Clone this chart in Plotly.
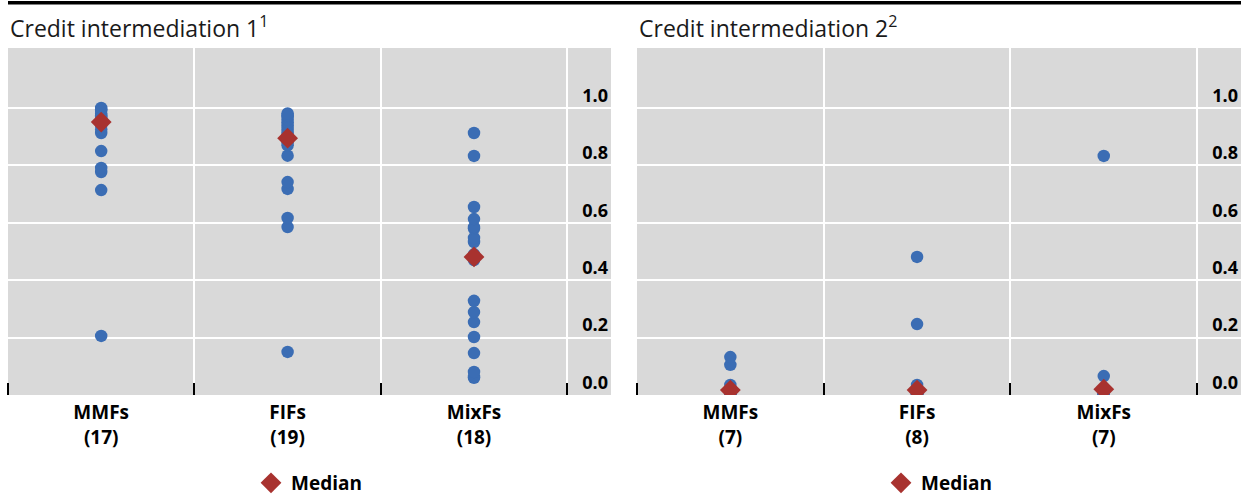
import plotly.graph_objects as go

# ---------------- data ----------------
categories = ["MMFs", "FIFs", "MixFs"]
counts_1 = [17, 19, 18]
counts_2 = [7, 8, 7]
panel_titles = ["Credit intermediation 1<sup>1</sup>", "Credit intermediation 2<sup>2</sup>"]

p1_mmfs = [0.206, 0.714, 0.777, 0.791, 0.850, 0.913, 0.925, 0.940, 0.951, 0.960,
           0.965, 0.970, 0.975, 0.980, 0.990, 0.995, 1.000]
p1_fifs = [0.150, 0.585, 0.617, 0.718, 0.742, 0.834, 0.870, 0.880, 0.890, 0.895,
           0.910, 0.920, 0.930, 0.940, 0.950, 0.960, 0.970, 0.975, 0.981]
p1_mixfs = [0.060, 0.063, 0.080, 0.146, 0.202, 0.254, 0.289, 0.328, 0.470, 0.490,
            0.533, 0.547, 0.580, 0.585, 0.613, 0.655, 0.833, 0.913]
p1_median = [0.951, 0.895, 0.481]

p2_mmfs = [0.0, 0.0, 0.0, 0.0, 0.035, 0.105, 0.132]
p2_fifs = [0.0, 0.0, 0.0, 0.0, 0.0, 0.035, 0.247, 0.481]
p2_mixfs = [0.0, 0.0, 0.0, 0.0, 0.0, 0.066, 0.833]
p2_median = [0.017, 0.017, 0.02]

y_ticks = [0.0, 0.2, 0.4, 0.6, 0.8, 1.0]

# ---------------- style ----------------
FONT = "Open Sans"
BLUE = "#3b6db4"
RED = "#a8322f"
BG = "#d9d9d9"

W, H = 1241, 495


def px(x):
    return x / W


def py(y):
    return (H - y) / H


fig = go.Figure()

panels = [
    ([p1_mmfs, p1_fifs, p1_mixfs], p1_median, "x", "y", "legend"),
    ([p2_mmfs, p2_fifs, p2_mixfs], p2_median, "x2", "y2", "legend2"),
]

for series, med, xa, ya, lg in panels:
    xs, ys = [], []
    for i, vals in enumerate(series):
        xs += [i] * len(vals)
        ys += vals
    fig.add_trace(go.Scatter(
        x=xs, y=ys, mode="markers", xaxis=xa, yaxis=ya,
        marker=dict(color=BLUE, size=12.5, line=dict(width=0)),
        showlegend=False, hoverinfo="y"))
    fig.add_trace(go.Scatter(
        x=list(range(len(categories))), y=med, mode="markers", xaxis=xa, yaxis=ya,
        marker=dict(color=RED, size=16, symbol="diamond", line=dict(width=0)),
        name="Median", legend=lg, showlegend=True))

yrange = [0, (395 - 48) / 287]
xrange = [-0.5, 2.735]


def xaxis_cfg(domain, counts, anchor):
    return dict(
        domain=domain, anchor=anchor, range=xrange, type="linear",
        tickmode="array", tickvals=[0, 1, 2],
        ticktext=[f"{c}<br>({n})" for c, n in zip(categories, counts)],
        tickfont=dict(family=FONT, size=19, color="black", weight="bold"),
        ticklabelstandoff=4,
        showgrid=False, zeroline=False, showline=False, ticks="",
        minor=dict(tickmode="array", tickvals=[-0.5, 0.5, 1.5, 2.5],
                   showgrid=True, gridcolor="white", gridwidth=2,
                   ticks="inside", ticklen=12, tickcolor="black", tickwidth=1.5),
        fixedrange=True,
    )


def yaxis_cfg(anchor):
    return dict(
        domain=[py(395), py(48)], anchor=anchor, range=yrange, side="right",
        tickmode="array", tickvals=y_ticks, ticktext=[f"{v:.1f}" for v in y_ticks],
        ticklabelposition="inside top",
        tickfont=dict(family=FONT, size=18, color="black", weight="bold"),
        showgrid=True, gridcolor="white", gridwidth=2,
        zeroline=False, showline=False, ticks="", fixedrange=True,
    )


legend_font = dict(family=FONT, size=19, color="black", weight="bold")

fig.update_layout(
    width=W, height=H,
    margin=dict(l=0, r=0, t=0, b=0, autoexpand=False),
    paper_bgcolor="white", plot_bgcolor=BG,
    font=dict(family=FONT, color="black"),
    xaxis=xaxis_cfg([px(8), px(611)], counts_1, "y"),
    yaxis=yaxis_cfg("x"),
    xaxis2=xaxis_cfg([px(637), 1.0], counts_2, "y2"),
    yaxis2=yaxis_cfg("x2"),
    legend=dict(x=px(251), y=py(483), xanchor="left", yanchor="middle",
                bgcolor="rgba(0,0,0,0)", font=legend_font),
    legend2=dict(x=px(881), y=py(483), xanchor="left", yanchor="middle",
                 bgcolor="rgba(0,0,0,0)", font=legend_font),
    showlegend=True,
)

for title, xpos in zip(panel_titles, [px(8), px(637)]):
    fig.add_annotation(text=title, xref="paper", yref="paper", x=xpos, y=py(27),
                       xanchor="left", yanchor="middle", showarrow=False,
                       font=dict(family=FONT, size=23, color="#1a1a1a"))

fig.add_shape(type="line", xref="paper", yref="paper", x0=px(8), x1=1.0,
              y0=py(2.8), y1=py(2.8), line=dict(color="black", width=3.5))

fig.write_html(
    "out.html",
    config={"displayModeBar": False},
    post_script="document.body.style.margin='0';document.body.style.overflow='hidden';",
)
